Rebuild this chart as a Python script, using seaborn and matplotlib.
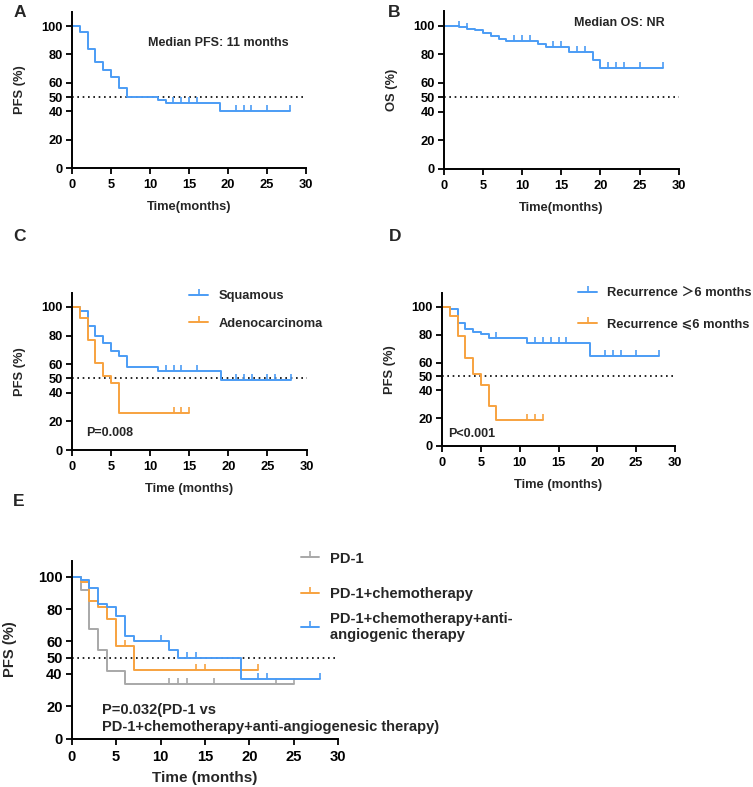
import numpy as np
import matplotlib
matplotlib.use('Agg')
import matplotlib.pyplot as plt
from matplotlib.lines import Line2D
import seaborn as sns

# Kaplan-Meier steps (time in months, survival in %)
A_time = [0, 1, 2, 3, 4, 5, 6, 7, 11, 12, 19, 28]
A_surv = [100, 96, 84, 75, 69, 64, 56, 50, 48, 46, 40, 40]
A_cens = [13, 14, 15, 16, 21, 22, 23, 25, 28]

B_time = [0, 2, 3, 4, 5, 6, 7, 8, 12, 13, 16, 19, 20, 28]
B_surv = [100, 99, 98, 97, 95, 92.5, 90.5, 89, 87, 85, 81.5, 76, 70.5, 70.5]
B_cens = [2, 3, 9, 10, 11, 14, 15, 17, 18, 21, 22, 23, 25, 28]

C_sq_time = [0, 1, 2, 3, 4, 5, 6, 7, 11, 19, 28]
C_sq_surv = [100, 97.4, 86.7, 80, 74.6, 69.2, 66, 58.3, 55.5, 49, 49]
C_sq_cens = [12, 13, 14, 16, 21, 22, 23, 25, 26, 28]
C_ad_time = [0, 1, 2, 3, 4, 5, 6, 15]
C_ad_surv = [100, 92, 77, 61, 51.7, 47, 26, 26]
C_ad_cens = [13, 14, 15]

D_gt_time = [0, 1, 2, 3, 4, 5, 6, 11, 19, 28]
D_gt_surv = [100, 98.6, 88.3, 84.5, 82.3, 80.4, 77.5, 73.9, 64.4, 64.4]
D_gt_cens = [7, 12, 13, 14, 15, 16, 21, 22, 23, 25, 28]
D_le_time = [0, 1, 2, 3, 4, 5, 6, 7, 13]
D_le_surv = [100, 93.5, 79.4, 63.2, 51.7, 44, 29, 18.5, 18.5]
D_le_cens = [11, 12, 13]

E_pd1_time = [0, 1, 2, 3, 4, 6, 25]
E_pd1_surv = [100, 91.8, 67.6, 54.8, 41.5, 33.7, 33.7]
E_pd1_cens = [11, 12, 13, 16, 23, 25]
E_chemo_time = [0, 1, 2, 3, 4, 5, 7, 21]
E_chemo_surv = [100, 96.5, 85, 81, 73.7, 57.3, 42.7, 42.7]
E_chemo_cens = [6, 14, 15, 21]
E_anti_time = [0, 1, 2, 3, 4, 5, 6, 7, 11, 12, 19, 28]
E_anti_surv = [100, 98, 92.8, 83, 81, 75.8, 63.4, 60.4, 55, 49.5, 36.6, 36.6]
E_anti_cens = [10, 13, 14, 21, 22, 28]

x_ticks = [0, 5, 10, 15, 20, 25, 30]
y_ticks = [0, 20, 40, 50, 60, 80, 100]

BLUE = '#4b9cf5'
ORANGE = '#f7a23f'
GRAY = '#a8a8a8'

sns.set_style('ticks')
plt.rcParams['font.family'] = ['Liberation Sans', 'DejaVu Sans', 'Noto Sans CJK SC']
plt.rcParams['font.weight'] = 'bold'
plt.rcParams['axes.labelweight'] = 'bold'


def level_at(times, surv, t):
    i = np.searchsorted(times, t, side='right') - 1
    return surv[i]


def km(ax, times, surv, cens, color):
    sns.lineplot(x=times, y=surv, drawstyle='steps-post', estimator=None,
                 color=color, lw=1.4, ax=ax, clip_on=False)
    ys = [level_at(times, surv, t) for t in cens]
    ax.plot(cens, ys, ls='none', marker=2, ms=4.5, mew=1.2, color=color, clip_on=False)


def style(ax, ylabel, xlabel, fs=9.3, xfs=9.3, xpad=7, ypad=11):
    ax.set_xlim(0, 30)
    ax.set_ylim(0, 110)
    ax.set_xticks(x_ticks)
    ax.set_yticks(y_ticks)
    ax.axhline(50, color='black', ls=(0, (1, 2.2)), lw=1.2, zorder=0)
    for s in ['top', 'right']:
        ax.spines[s].set_visible(False)
    for s in ['left', 'bottom']:
        ax.spines[s].set_linewidth(1.4)
        ax.spines[s].set_color('black')
    ax.tick_params(width=1.3, length=4, labelsize=fs, colors='black', pad=2.5)
    ax.tick_params(axis='x', pad=4)
    ax.set_ylabel(ylabel, fontsize=fs, labelpad=ypad)
    ax.set_xlabel(xlabel, fontsize=xfs, labelpad=xpad)


def handle(color):
    return Line2D([], [], color=color, lw=1.4, marker=2, ms=4, mew=1.2)


fig = plt.figure(figsize=(7.53, 7.87), dpi=100)
axA = fig.add_axes([0.0956, 0.7865, 0.3108, 0.1985])
axB = fig.add_axes([0.5892, 0.7853, 0.3121, 0.2003])
axC = fig.add_axes([0.0956, 0.4282, 0.3115, 0.1999])
axD = fig.add_axes([0.5870, 0.4333, 0.3094, 0.1943])
axE = fig.add_axes([0.0952, 0.0614, 0.3540, 0.2264])

# A
km(axA, A_time, A_surv, A_cens, BLUE)
style(axA, 'PFS (%)', 'Time(months)')
axA.text(18.7, 88, 'Median PFS: 11 months', ha='center', va='center', fontsize=9)

# B
km(axB, B_time, B_surv, B_cens, BLUE)
style(axB, 'OS (%)', 'Time(months)')
axB.text(16.6, 102, 'Median OS: NR', ha='left', va='center', fontsize=9)

# C
km(axC, C_sq_time, C_sq_surv, C_sq_cens, BLUE)
km(axC, C_ad_time, C_ad_surv, C_ad_cens, ORANGE)
style(axC, 'PFS (%)', 'Time (months)')
axC.text(1.8, 12, 'P=0.008', ha='left', va='center', fontsize=9)
axC.legend([handle(BLUE), handle(ORANGE)], ['Squamous', 'Adenocarcinoma'],
           loc='upper left', bbox_to_anchor=(0.5, 1.015), frameon=False,
           fontsize=9.3, handlelength=1.45, handletextpad=0.8, labelspacing=1.2,
           borderpad=0, borderaxespad=0)

# D
km(axD, D_gt_time, D_gt_surv, D_gt_cens, BLUE)
km(axD, D_le_time, D_le_surv, D_le_cens, ORANGE)
style(axD, 'PFS (%)', 'Time (months)')
axD.text(0.8, 8.6, 'P<0.001', ha='left', va='center', fontsize=9)
axD.legend([handle(BLUE), handle(ORANGE)],
           ['Recurrence ＞6 months', 'Recurrence ⩽6 months'],
           loc='upper left', bbox_to_anchor=(0.585, 1.035), frameon=False,
           fontsize=9.3, handlelength=1.45, handletextpad=0.8, labelspacing=1.45,
           borderpad=0, borderaxespad=0)

# E (drawn at a slightly larger scale in the source figure)
km(axE, E_pd1_time, E_pd1_surv, E_pd1_cens, GRAY)
km(axE, E_chemo_time, E_chemo_surv, E_chemo_cens, ORANGE)
km(axE, E_anti_time, E_anti_surv, E_anti_cens, BLUE)
style(axE, 'PFS (%)', 'Time (months)', fs=10.6, xfs=11, xpad=5, ypad=15)
axE.text(3.4, 12.5, 'P=0.032(PD-1 vs\nPD-1+chemotherapy+anti-angiogenesic therapy)',
         ha='left', va='center', fontsize=10.5, linespacing=1.3)
leg_kw = dict(loc='upper left', frameon=False, fontsize=10.6, handlelength=1.25,
              handletextpad=0.75, borderpad=0, borderaxespad=0)
legE1 = axE.legend([handle(GRAY), handle(ORANGE)], ['PD-1', 'PD-1+chemotherapy'],
                   bbox_to_anchor=(0.86, 1.05), labelspacing=1.45, **leg_kw)
axE.add_artist(legE1)
axE.legend([handle(BLUE)], ['PD-1+chemotherapy+anti-\nangiogenic therapy'],
           bbox_to_anchor=(0.86, 0.713), **leg_kw)

# panel letters
for letter, (px, py) in zip('ABCDE', [(14, 5), (388, 5), (13, 229), (389, 229), (13, 494)]):
    fig.text(px / 753, 1 - py / 787, letter, fontsize=12.5, fontweight='bold',
             ha='left', va='top')

fig.savefig('out.png', dpi=100)
